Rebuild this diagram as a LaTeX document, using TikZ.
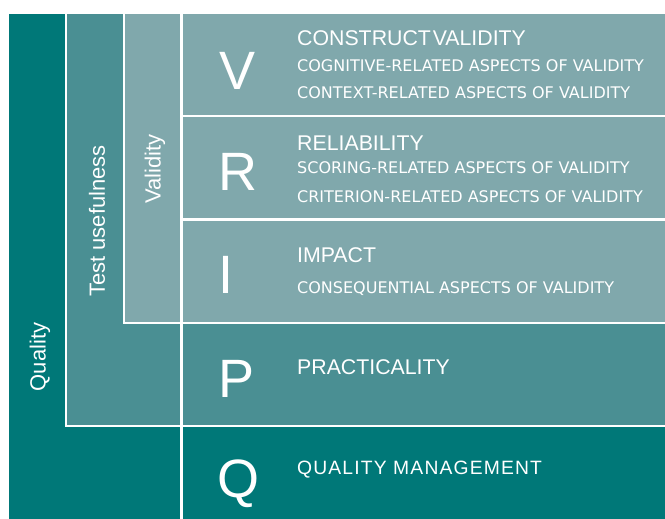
\documentclass[tikz,border=0pt]{standalone}
\usepackage{fontspec}
\setmainfont{Liberation Sans}
\newfontfamily\subfont{DejaVu Sans}
\newfontfamily\spacedfont[LetterSpace=6]{Liberation Sans}
\definecolor{qualitycol}{HTML}{007878}
\definecolor{usefulcol}{HTML}{4A8F93}
\definecolor{validcol}{HTML}{80A8AC}

\tikzset{
  sep/.style={draw=white,line width=2.4pt},
  big/.style={anchor=base west,inner sep=0pt,text=white,font=\fontsize{54}{54}\selectfont},
  head/.style={anchor=base west,inner sep=0pt,text=white,font=\fontsize{21.3}{21.3}\selectfont},
  sub/.style={anchor=base west,inner sep=0pt,text=white,font=\subfont\fontsize{16}{16}\selectfont},
  side/.style={rotate=90,inner sep=0pt,text=white,font=\fontsize{22}{22}\selectfont}
}

\begin{document}
\begin{tikzpicture}[x=1pt,y=-1pt]
   \useasboundingbox (0,0) rectangle (665,519);
   \fill[qualitycol] (9,14) rectangle (665,519);
   \fill[usefulcol] (66,14) rectangle (665,426);
   \fill[validcol] (124,14) rectangle (665,323);
   \draw[sep] (66,14) -- (66,426) -- (665,426);
   \draw[sep] (124,14) -- (124,323) -- (665,323);
   \draw[sep] (181.5,14) -- (181.5,519);
   \draw[sep] (181.5,116) -- (665,116);
   \draw[sep] (181.5,219.5) -- (665,219.5);
   \node[side] (quality) at (40,357) {Quality};
   \node[side] (usefulness) at (97,221) {Test usefulness};
   \node[side] (validity) at (155,169) {Validity};
   \node[big] (v) at (219,90) {V};
   \node[big] (r) at (218,190) {R};
   \node[big] (i) at (218,293) {I};
   \node[big] (p) at (218,397) {P};
   \node[big] (q) at (217,497) {Q};
   \node[head] (construct) at (297,46) {CONSTRUCT\kern-4pt{} VALIDITY};
   \node[sub] (cognitive) at (297,72) {COGNITIVE-RELATED ASPECTS OF VALIDITY};
   \node[sub] (context) at (297,99) {CONTEXT-RELATED ASPECTS OF VALIDITY};
   \node[head] (reliability) at (297,150) {RELIABILITY};
   \node[sub] (scoring) at (297,174) {SCORING-RELATED ASPECTS OF VALIDITY};
   \node[sub] (criterion) at (297,202) {CRITERION-RELATED ASPECTS OF VALIDITY};
   \node[head] (impact) at (297,262) {IMPACT};
   \node[sub] (consequential) at (297,293) {CONSEQUENTIAL ASPECTS OF VALIDITY};
   \node[head] (practicality) at (297,374) {PRACTICALITY};
   \node[head,font=\spacedfont\fontsize{19.3}{19.3}\selectfont] (management) at (297,474) {QUALITY MANAGEMENT};
\end{tikzpicture}
\end{document}
